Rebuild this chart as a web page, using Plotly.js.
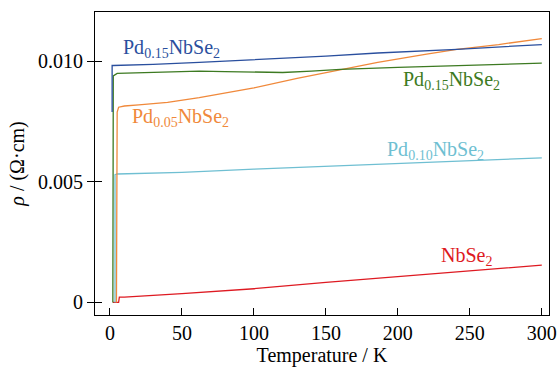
<!DOCTYPE html>
<html>
<head>
<meta charset="utf-8">
<script src="https://cdn.plot.ly/plotly-3.0.1.min.js"></script>
<style>html,body{margin:0;padding:0;background:#fff;}#chart{width:558px;height:367px;}</style>
</head>
<body>
<div id="chart"></div>
<script>
// Pd0.15NbSe2 (blue)
const tBlue   = [1.5, 1.5, 2.2, 10, 30, 62, 100, 150, 186, 241, 300];
const rhoBlue = [0.0079, 0.00983, 0.00983, 0.00984, 0.00988, 0.00996, 0.01007, 0.01022, 0.01035, 0.0105, 0.0107];
// Pd0.15NbSe2 (green)
const tGreen   = [2, 2.3, 5, 20, 40, 62, 80, 100, 120, 140, 160, 200, 250, 300];
const rhoGreen = [0, 0.0094, 0.0095, 0.00952, 0.00955, 0.0096, 0.00958, 0.00955, 0.00954, 0.0096, 0.00967, 0.00975, 0.00985, 0.00993];
// Pd0.05NbSe2 (orange)
const tOrange   = [4.5, 5, 6, 10, 20, 40, 62, 100, 130, 160, 186, 220, 241, 270, 300];
const rhoOrange = [0, 0.0079, 0.0081, 0.00815, 0.0082, 0.0083, 0.0085, 0.0089, 0.0093, 0.00967, 0.00996, 0.0103, 0.0105, 0.0107, 0.01095];
// Pd0.10NbSe2 (cyan)
const tCyan   = [3.5, 3.5, 5, 50, 100, 150, 200, 250, 300];
const rhoCyan = [0, 0.0053, 0.00533, 0.0054, 0.00553, 0.00565, 0.00578, 0.0059, 0.006];
// NbSe2 (red)
const tRed   = [2, 6, 6.5, 10, 50, 100, 150, 200, 250, 300];
const rhoRed = [0, 0, 0.00022, 0.00022, 0.00037, 0.00057, 0.00083, 0.00108, 0.00133, 0.00155];

const xTicks = [0, 50, 100, 150, 200, 250, 300];
const yTicks = [0, 0.005, 0.010];
const yTickText = ['0', '0.005', '0.010'];
const yRange = [-0.00052, 0.01205];

const labels = [
  {text: 'Pd<sub>0.15</sub>NbSe<sub>2</sub>', x: 43, y: 0.01054, color: '#2a4f9e'},
  {text: 'Pd<sub>0.15</sub>NbSe<sub>2</sub>', x: 237, y: 0.00921, color: '#3d7a22'},
  {text: 'Pd<sub>0.05</sub>NbSe<sub>2</sub>', x: 49, y: 0.00768, color: '#f0893b'},
  {text: 'Pd<sub>0.10</sub>NbSe<sub>2</sub>', x: 226, y: 0.00631, color: '#6fbfd2'},
  {text: 'NbSe<sub>2</sub>', x: 248, y: 0.00191, color: '#de1a22'}
];

const font = 'Liberation Serif, Times New Roman, serif';
function tr(x, y, color, yax) {
  return {x: x, y: y, type: 'scatter', mode: 'lines', yaxis: yax || 'y',
    line: {color: color, width: 1.3}, hoverinfo: 'skip', showlegend: false};
}
const data = [
  tr(tRed, rhoRed, '#de1a22'),
  tr(tCyan, rhoCyan, '#6fbfd2'),
  tr(tOrange, rhoOrange, '#f0893b'),
  tr(tGreen, rhoGreen, '#3d7a22'),
  tr(tBlue, rhoBlue, '#2a4f9e', 'y2')
];

const layout = {
  width: 558, height: 367,
  margin: {l: 95, r: 9, t: 12, b: 52},
  paper_bgcolor: '#fff', plot_bgcolor: '#fff',
  font: {family: font, size: 20, color: '#000'},
  showlegend: false,
  xaxis: {
    range: [-10.4, 305], tickvals: xTicks, ticktext: xTicks.map(String),
    ticks: 'inside', ticklen: 7, tickwidth: 1, tickcolor: '#000',
    showline: true, linecolor: '#000', linewidth: 1.3, mirror: true,
    showgrid: false, zeroline: false,
    tickfont: {family: font, size: 20},
    title: {text: 'Temperature / K', font: {family: font, size: 20}, standoff: 6}
  },
  yaxis: {
    range: yRange, tickvals: yTicks, showticklabels: false,
    ticks: 'inside', ticklen: 7, tickwidth: 1, tickcolor: '#000',
    showline: true, linecolor: '#000', linewidth: 1.3, mirror: true,
    showgrid: false, zeroline: false
  },
  yaxis2: {
    overlaying: 'y', side: 'left', anchor: 'x', range: yRange,
    tickvals: yTicks, ticktext: yTickText,
    ticks: 'outside', ticklen: 7, tickwidth: 1, tickcolor: '#000',
    showline: false, showgrid: false, zeroline: false,
    tickfont: {family: font, size: 20},
    title: {text: '<i>ρ</i> / (Ω·cm)', font: {family: font, size: 20}, standoff: 8}
  },
  annotations: labels.map(l => ({
    text: l.text, x: l.x, y: l.y, xref: 'x', yref: 'y', showarrow: false,
    font: {family: font, size: 20, color: l.color}, xanchor: 'center', yanchor: 'middle'
  }))
};

Plotly.newPlot('chart', data, layout, {displayModeBar: false, staticPlot: true});
</script>
</body>
</html>
